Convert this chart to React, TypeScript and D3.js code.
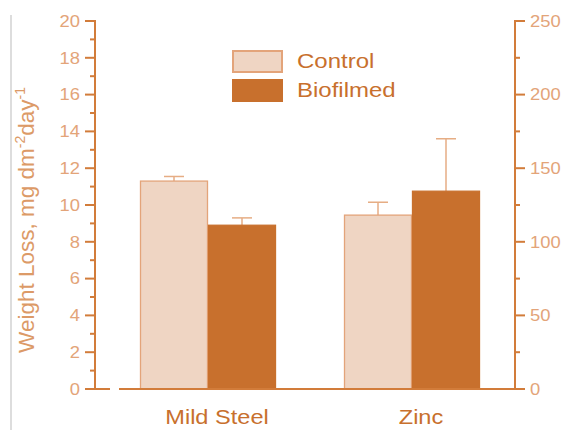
import * as d3 from 'd3';

const categories = ['Mild Steel', 'Zinc'];
const seriesNames = ['Control', 'Biofilmed'];
const controlValues = [11.3, 9.45];
const controlErrors = [0.25, 0.7];
const biofilmedValues = [8.9, 10.75];
const biofilmedErrors = [0.4, 2.85];
const leftTicks = [0, 2, 4, 6, 8, 10, 12, 14, 16, 18, 20];
const rightTicks = [0, 50, 100, 150, 200, 250];

const W = 561;
const H = 430;
const font = 'Liberation Sans, Arial, sans-serif';
const axisColor = '#d27c3a';
const tickLabelColor = '#e3a479';
const fills = ['#efd5c3', '#c8702d'];
const strokes = ['#e3a47a', '#c8702d'];
const errColor = '#e6ad84';
// the source picture is a little wider than tall, so text looks stretched
const sx = 1.15;

export default function App() {
  const top = 21;
  const bottom = 389;
  const leftX = 95;
  const rightX = 515;

  const y = d3.scaleLinear().domain([0, 20]).range([bottom, top]);
  const yR = d3.scaleLinear().domain([0, 250]).range([bottom, top]);
  const x = d3.scalePoint<string>().domain(categories).range([208, 412]);
  const sub = d3.scaleBand<string>().domain(seriesNames).range([-68, 68]);

  const leftMinor = d3.range(1, 20, 2);
  const rightMinor = d3.range(25, 250, 50);

  const values = [controlValues, biofilmedValues];
  const errors = [controlErrors, biofilmedErrors];

  return (
    <svg
      width={W}
      height={H}
      style={{ position: 'absolute', left: 0, top: 0, background: '#fff' }}
      fontFamily={font}
    >
      {/* thin grey border line at left edge */}
      <line x1={11} x2={11} y1={15} y2={H} stroke="#bbb" strokeWidth={1} />

      {/* bars */}
      {categories.map((c, ci) =>
        seriesNames.map((s, si) => {
          const bx = x(c)! + sub(s)!;
          const bw = sub.bandwidth();
          const v = values[si][ci];
          const e = errors[si][ci];
          const cx = bx + bw / 2;
          return (
            <g key={c + s}>
              <line x1={cx} x2={cx} y1={y(v)} y2={y(v + e)} stroke={errColor} strokeWidth={1.5} />
              <line x1={cx - 10} x2={cx + 10} y1={y(v + e)} y2={y(v + e)} stroke={errColor} strokeWidth={1.5} />
              <rect
                x={bx + 0.5}
                y={y(v)}
                width={bw - 1}
                height={bottom - y(v)}
                fill={fills[si]}
                stroke={strokes[si]}
                strokeWidth={1.3}
              />
            </g>
          );
        })
      )}

      {/* baseline */}
      <line x1={119} x2={rightX} y1={bottom} y2={bottom} stroke={axisColor} strokeWidth={2} />

      {/* left axis */}
      <line x1={leftX} x2={leftX} y1={top - 1} y2={bottom + 1} stroke={axisColor} strokeWidth={2} />
      <line x1={leftX} x2={110} y1={bottom} y2={bottom} stroke={axisColor} strokeWidth={2} />
      {leftTicks.map((t) => (
        <g key={'l' + t}>
          <line x1={leftX - 10} x2={leftX} y1={y(t)} y2={y(t)} stroke={axisColor} strokeWidth={2} />
          <text
            transform={`translate(80, ${y(t)}) scale(${sx}, 1)`}
            dy="0.36em"
            textAnchor="end"
            fontSize={16}
            fill={tickLabelColor}
          >
            {t}
          </text>
        </g>
      ))}
      {leftMinor.map((t) => (
        <line key={'lm' + t} x1={leftX - 5} x2={leftX} y1={y(t)} y2={y(t)} stroke={axisColor} strokeWidth={2} />
      ))}

      {/* right axis */}
      <line x1={rightX} x2={rightX} y1={top - 1} y2={bottom + 1} stroke={axisColor} strokeWidth={2} />
      {rightTicks.map((t) => (
        <g key={'r' + t}>
          <line x1={rightX} x2={rightX + 10} y1={yR(t)} y2={yR(t)} stroke={axisColor} strokeWidth={2} />
          <text
            transform={`translate(530, ${yR(t)}) scale(${sx}, 1)`}
            dy="0.36em"
            textAnchor="start"
            fontSize={16}
            fill={tickLabelColor}
          >
            {t}
          </text>
        </g>
      ))}
      {rightMinor.map((t) => (
        <line key={'rm' + t} x1={rightX} x2={rightX + 5} y1={yR(t)} y2={yR(t)} stroke={axisColor} strokeWidth={2} />
      ))}

      {/* category labels */}
      {categories.map((c) => (
        <text
          key={c}
          transform={`translate(${x(c)! + 9}, 424) scale(${sx}, 1)`}
          textAnchor="middle"
          fontSize={20.5}
          fill="#c8702d"
        >
          {c}
        </text>
      ))}

      {/* y axis title */}
      <text
        transform={`translate(34, 220) rotate(-90)`}
        textAnchor="middle"
        fontSize={22.5}
        fill="#dc9a67"
      >
        Weight Loss, mg dm
        <tspan dy={-9} fontSize={14}>-2</tspan>
        <tspan dy={9}>day</tspan>
        <tspan dy={-9} fontSize={14}>-1</tspan>
      </text>

      {/* legend */}
      {seriesNames.map((s, i) => (
        <g key={s} transform={`translate(232, ${50 + i * 29})`}>
          <rect x={1} y={1} width={49} height={21} fill={fills[i]} stroke={strokes[i]} strokeWidth={2} />
          <text
            transform={`translate(65, 18) scale(1.2, 1)`}
            fontSize={20}
            fill="#c8702d"
          >
            {s}
          </text>
        </g>
      ))}
    </svg>
  );
}
